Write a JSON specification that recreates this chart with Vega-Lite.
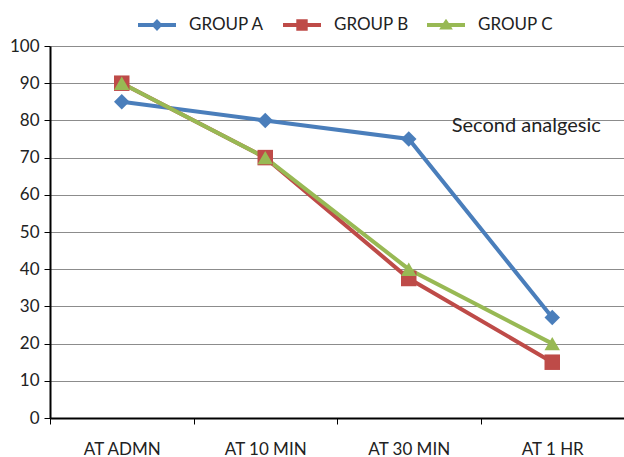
{
  "$schema": "https://vega.github.io/schema/vega-lite/v6.json",
  "width": 574,
  "height": 372,
  "autosize": {"type": "none"},
  "padding": {"left": 50, "top": 46, "right": 0, "bottom": 39},
  "background": "white",
  "config": {
    "view": {"stroke": null},
    "font": "Lato"
  },
  "data": {
    "values": [
      {"time": "AT ADMN", "group": "GROUP A", "value": 85},
      {"time": "AT 10 MIN", "group": "GROUP A", "value": 80},
      {"time": "AT 30 MIN", "group": "GROUP A", "value": 75},
      {"time": "AT 1 HR", "group": "GROUP A", "value": 27},
      {"time": "AT ADMN", "group": "GROUP B", "value": 90},
      {"time": "AT 10 MIN", "group": "GROUP B", "value": 70},
      {"time": "AT 30 MIN", "group": "GROUP B", "value": 37.5},
      {"time": "AT 1 HR", "group": "GROUP B", "value": 15},
      {"time": "AT ADMN", "group": "GROUP C", "value": 90},
      {"time": "AT 10 MIN", "group": "GROUP C", "value": 70},
      {"time": "AT 30 MIN", "group": "GROUP C", "value": 40},
      {"time": "AT 1 HR", "group": "GROUP C", "value": 20}
    ]
  },
  "encoding": {
    "x": {
      "field": "time", "type": "nominal",
      "sort": ["AT ADMN", "AT 10 MIN", "AT 30 MIN", "AT 1 HR"],
      "scale": {"type": "band", "paddingInner": 0, "paddingOuter": 0},
      "axis": {
        "title": null, "labelAngle": 0, "labelFontSize": 17, "labelColor": "#222",
        "labelPadding": 17, "domainColor": "#000", "domainWidth": 2,
        "tickColor": "#000", "tickWidth": 1, "tickSize": 6, "tickBand": "extent",
        "grid": false
      }
    },
    "y": {
      "field": "value", "type": "quantitative",
      "scale": {"domain": [0, 100], "nice": false},
      "axis": {
        "title": null, "values": [0,10,20,30,40,50,60,70,80,90,100],
        "labelFontSize": 17, "labelColor": "#222", "labelPadding": 5,
        "domainColor": "#000", "domainWidth": 2,
        "tickColor": "#000", "tickSize": 6,
        "grid": true, "gridColor": "#8c8c8c", "gridWidth": 1
      }
    }
  },
  "layer": [
    {
      "mark": {"type": "line", "strokeWidth": 4},
      "encoding": {
        "color": {
          "field": "group", "type": "nominal",
          "scale": {"domain": ["GROUP A", "GROUP B", "GROUP C"], "range": ["#4a7ebb", "#be4b48", "#98b954"]},
          "legend": null
        }
      }
    },
    {
      "mark": {"type": "point", "filled": true, "opacity": 1, "size": 240},
      "encoding": {
        "color": {
          "field": "group", "type": "nominal",
          "scale": {"domain": ["GROUP A", "GROUP B", "GROUP C"], "range": ["#4a7ebb", "#be4b48", "#98b954"]},
          "legend": null
        },
        "shape": {
          "field": "group", "type": "nominal",
          "scale": {"domain": ["GROUP A", "GROUP B", "GROUP C"], "range": ["diamond", "square", "triangle-up"]},
          "legend": null
        }
      }
    },
    {
      "transform": [{"filter": "false"}],
      "mark": {"type": "point", "filled": true, "opacity": 1},
      "encoding": {
        "color": {
          "field": "group", "type": "nominal",
          "scale": {"domain": ["GROUP A", "GROUP B", "GROUP C"], "range": ["#4a7ebb", "#be4b48", "#98b954"]},
          "legend": {
            "title": null, "orient": "none", "direction": "horizontal",
            "legendX": 88, "legendY": -40,
            "symbolSize": 1444, "symbolStrokeWidth": 0,
            "labelFontSize": 17, "labelColor": "#222", "labelOffset": 13,
            "columnPadding": 18
          }
        },
        "shape": {
          "field": "group", "type": "nominal",
          "scale": {
            "domain": ["GROUP A", "GROUP B", "GROUP C"],
            "range": [
              "M-1,-0.1H-0.2L0,-0.32L0.2,-0.1H1V0.1H0.2L0,0.32L-0.2,0.1H-1Z",
              "M-1,-0.1H-0.3V-0.3H0.3V-0.1H1V0.1H0.3V0.3H-0.3V0.1H-1Z",
              "M-1,-0.1H-0.15L0,-0.33L0.15,-0.1H1V0.1H0.28L0.36,0.24H-0.36L-0.28,0.1H-1Z"
            ]
          },
          "legend": {
            "title": null, "orient": "none", "direction": "horizontal",
            "legendX": 88, "legendY": -40,
            "symbolSize": 1444, "symbolStrokeWidth": 0,
            "labelFontSize": 17, "labelColor": "#222", "labelOffset": 13,
            "columnPadding": 18
          }
        }
      }
    },
    {
      "data": {"values": [{"time": "AT 1 HR", "value": 78.5, "label": "Second analgesic"}]},
      "mark": {"type": "text", "fontSize": 20, "dx": -26, "color": "#222", "font": "Lato"},
      "encoding": {
        "text": {"field": "label"}
      }
    }
  ],
  "resolve": {"scale": {"shape": "independent", "color": "independent"}}
}
